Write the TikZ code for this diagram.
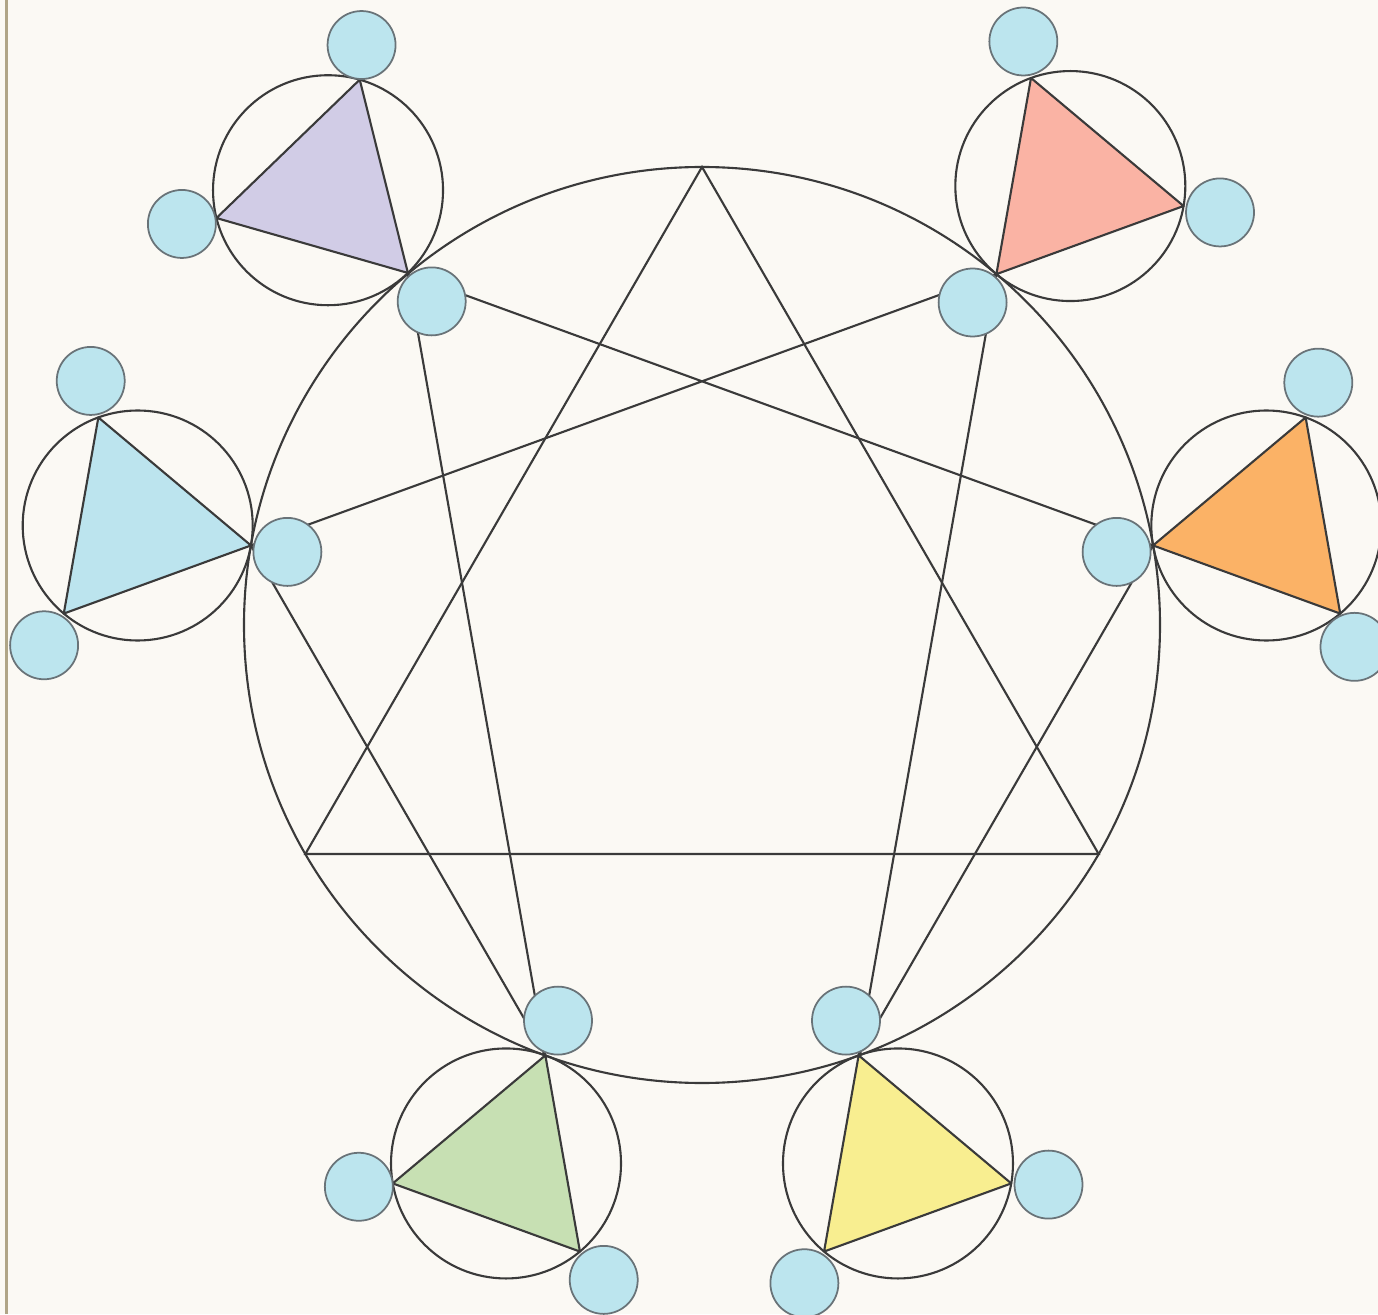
\documentclass[tikz,border=0pt]{standalone}
\usepackage{tikz}
\definecolor{paper}{RGB}{251,249,244}
\definecolor{edgetan}{RGB}{176,165,135}
\definecolor{inkgray}{RGB}{58,58,58}
\definecolor{dotgray}{RGB}{105,115,120}
\definecolor{dotblue}{RGB}{188,229,238}
\definecolor{lavender}{RGB}{209,204,230}
\definecolor{salmon}{RGB}{250,179,164}
\definecolor{skyblue}{RGB}{188,228,238}
\definecolor{peach}{RGB}{251,178,102}
\definecolor{sage}{RGB}{199,224,179}
\definecolor{lemon}{RGB}{248,238,144}

\begin{document}
\begin{tikzpicture}[
    line width=0.6pt,
    ring/.style={draw=inkgray, circle, inner sep=0pt, outer sep=0pt, minimum size=9.16cm},
    wing/.style={draw=inkgray, circle, inner sep=0pt, outer sep=0pt, minimum size=2.3cm},
    tri/.style={draw=inkgray, line join=round},
    dot/.style={draw=dotgray, fill=dotblue, circle, inner sep=0pt, outer sep=0pt, line width=0.5pt, minimum size=0.68cm}
  ]
    % Page
    \useasboundingbox (-7.02,6.25) rectangle (6.76,-6.89);
    \fill[paper] (-7.02,6.25) rectangle (6.76,-6.89);
    \draw[edgetan, line width=0.7pt] (-6.955,6.25) -- (-6.955,-6.89);

    % Outer circle
    \node[ring] (ring) at (0,0) {};

    % Triangle 9-3-6
    \draw[inkgray] (ring.90) -- (ring.330) -- (ring.210) -- cycle;

    % Hexad 1-4-2-8-5-7
    \draw[inkgray, line join=round] (ring.50) -- (ring.290) -- (ring.10) -- (ring.130)
        -- (ring.250) -- (ring.170) -- cycle;

    % Wing circles
    \node[wing] (w1) at (50:5.73) {};
    \node[wing] (w2) at (10:5.73) {};
    \node[wing] (w4) at (290:5.73) {};
    \node[wing] (w5) at (250:5.73) {};
    \node[wing] (w7) at (170:5.73) {};
    \node[wing] (w8) at (130.7:5.735) {};

    % Wing triangles
    \draw[tri, fill=salmon] (w1.230) -- (w1.350) -- (w1.110) -- cycle;
    \draw[tri, fill=peach] (w2.190) -- (w2.70) -- (w2.310) -- cycle;
    \draw[tri, fill=lemon] (w4.110) -- (w4.230) -- (w4.350) -- cycle;
    \draw[tri, fill=sage] (w5.70) -- (w5.190) -- (w5.310) -- cycle;
    \draw[tri, fill=skyblue] (w7.350) -- (w7.110) -- (w7.230) -- cycle;
    \draw[tri, fill=lavender] (w8.314) -- (w8.74) -- (w8.194) -- cycle;

    % Dots
    \node[dot] (d1a) at ([shift={(230:1.52)}]w1.center) {};
    \node[dot] (d1b) at ([shift={(350:1.52)}]w1.center) {};
    \node[dot] (d1c) at ([shift={(108:1.52)}]w1.center) {};

    \node[dot] (d2a) at ([shift={(190:1.52)}]w2.center) {};
    \node[dot] (d2b) at ([shift={(70:1.52)}]w2.center) {};
    \node[dot] (d2c) at ([shift={(306:1.50)}]w2.center) {};

    \node[dot] (d4a) at ([shift={(110:1.52)}]w4.center) {};
    \node[dot] (d4b) at ([shift={(232:1.52)}]w4.center) {};
    \node[dot] (d4c) at ([shift={(352:1.52)}]w4.center) {};

    \node[dot] (d5a) at ([shift={(70:1.52)}]w5.center) {};
    \node[dot] (d5b) at ([shift={(189:1.49)}]w5.center) {};
    \node[dot] (d5c) at ([shift={(310:1.52)}]w5.center) {};

    \node[dot] (d7a) at ([shift={(350:1.52)}]w7.center) {};
    \node[dot] (d7b) at ([shift={(108:1.52)}]w7.center) {};
    \node[dot] (d7c) at ([shift={(232:1.52)}]w7.center) {};

    \node[dot] (d8a) at ([shift={(313:1.52)}]w8.center) {};
    \node[dot] (d8b) at ([shift={(77:1.49)}]w8.center) {};
    \node[dot] (d8c) at ([shift={(193:1.50)}]w8.center) {};
\end{tikzpicture}
\end{document}
